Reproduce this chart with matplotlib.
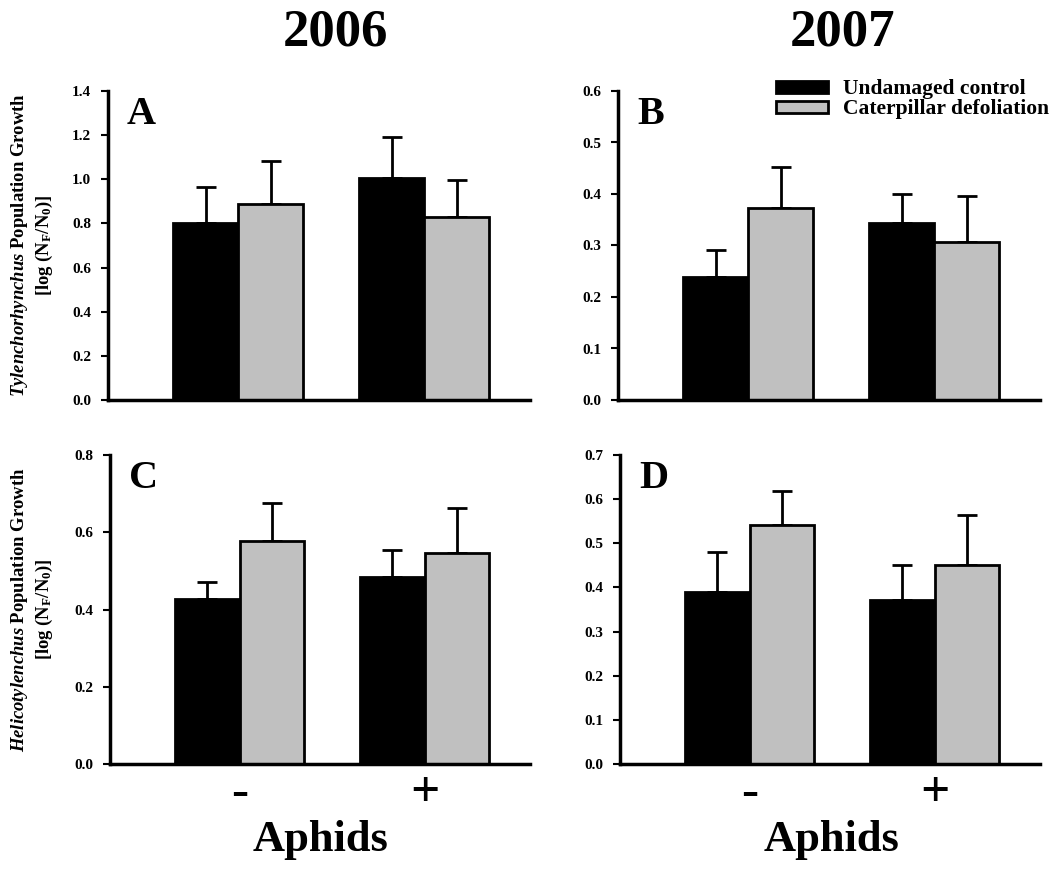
import numpy as np
import matplotlib
matplotlib.use("Agg")
import matplotlib.pyplot as plt
from matplotlib.patches import Patch

plt.rcParams['font.family'] = ['Liberation Serif', 'DejaVu Serif']
plt.rcParams['font.weight'] = 'bold'
plt.rcParams['mathtext.fontset'] = 'custom'
plt.rcParams['mathtext.rm'] = 'Liberation Serif:bold'
plt.rcParams['mathtext.it'] = 'Liberation Serif:italic:bold'
plt.rcParams['mathtext.bf'] = 'Liberation Serif:bold'

aphids = ['-', '+']
series = ['Undamaged control', 'Caterpillar defoliation']

# panel A: Tylenchorhynchus 2006
a_ctrl = [0.80, 1.005]
a_ctrl_se = [0.164, 0.185]
a_def = [0.89, 0.83]
a_def_se = [0.193, 0.165]

# panel B: Tylenchorhynchus 2007
b_ctrl = [0.239, 0.343]
b_ctrl_se = [0.052, 0.057]
b_def = [0.372, 0.307]
b_def_se = [0.080, 0.090]

# panel C: Helicotylenchus 2006
c_ctrl = [0.426, 0.483]
c_ctrl_se = [0.044, 0.070]
c_def = [0.578, 0.546]
c_def_se = [0.097, 0.118]

# panel D: Helicotylenchus 2007
d_ctrl = [0.390, 0.372]
d_ctrl_se = [0.091, 0.078]
d_def = [0.542, 0.451]
d_def_se = [0.076, 0.112]

fig = plt.figure(figsize=(10.64, 8.71), dpi=100)
W, H = 1064, 871


def px_axes(l, r, t, b):
    return fig.add_axes([l / W, 1 - b / H, (r - l) / W, (b - t) / H])


axA = px_axes(108, 530, 91, 400)
axB = px_axes(618, 1040, 91, 400)
axC = px_axes(110, 530, 455, 764)
axD = px_axes(620, 1040, 455, 764)

panels = [
    (axA, 'A', a_ctrl, a_ctrl_se, a_def, a_def_se, 1.4, 0.2),
    (axB, 'B', b_ctrl, b_ctrl_se, b_def, b_def_se, 0.6, 0.1),
    (axC, 'C', c_ctrl, c_ctrl_se, c_def, c_def_se, 0.8, 0.2),
    (axD, 'D', d_ctrl, d_ctrl_se, d_def, d_def_se, 0.7, 0.1),
]

x = np.arange(len(aphids))
w = 0.35
for ax, letter, ctrl, ctrl_se, dfl, dfl_se, ymax, step in panels:
    for vals, se, col, off in [(ctrl, ctrl_se, 'black', -w / 2), (dfl, dfl_se, '#c0c0c0', w / 2)]:
        ax.bar(x + off, vals, w, color=col, edgecolor='black', linewidth=2, zorder=2)
        ax.errorbar(x + off, vals, yerr=[np.zeros(len(se)), se], fmt='none',
                    ecolor='black', elinewidth=2, capsize=7, capthick=2, zorder=1)
    ax.set_xlim(-0.70, 1.57)
    ax.set_ylim(0, ymax)
    ax.set_yticks(np.arange(0, ymax + step / 2, step))
    ax.yaxis.set_major_formatter(matplotlib.ticker.FormatStrFormatter('%.1f'))
    ax.tick_params(axis='y', direction='out', length=5, width=1.5, labelsize=11, pad=7)
    for s in ['top', 'right']:
        ax.spines[s].set_visible(False)
    for s in ['left', 'bottom']:
        ax.spines[s].set_linewidth(2.5)
    ax.text(0.045, 0.985, letter, transform=ax.transAxes, fontsize=29,
            fontweight='bold', va='top', ha='left')
    ax.set_xticks(x)
    ax.tick_params(axis='x', length=0)

for ax in (axA, axB):
    ax.set_xticklabels([])
for ax in (axC, axD):
    ax.set_xticklabels(aphids, fontsize=37, fontweight='bold')
    ax.tick_params(axis='x', pad=5)

ylab = '$\\mathit{%s}$ Population Growth\n[log (N$_\\mathrm{F}$/N$_\\mathrm{0}$)]'
axA.set_ylabel(ylab % 'Tylenchorhynchus', fontsize=13.4, fontweight='bold', linespacing=1.3)
axC.set_ylabel(ylab % 'Helicotylenchus', fontsize=13.4, fontweight='bold', linespacing=1.3)
axA.yaxis.set_label_coords(-0.125, 0.5)
axC.yaxis.set_label_coords(-0.13, 0.5)

handles = [Patch(facecolor='black', edgecolor='black', linewidth=2),
           Patch(facecolor='#c0c0c0', edgecolor='black', linewidth=2)]
axB.legend(handles, series, loc='upper right', bbox_to_anchor=(1.067, 1.10), frameon=False,
           prop={'family': 'Liberation Serif', 'weight': 'bold', 'size': 15.5},
           handlelength=2.4, handleheight=0.45, handletextpad=0.7, labelspacing=0.0)

fig.text(335 / W, 1 - 32 / H, '2006', fontsize=38, fontweight='bold', ha='center', va='center')
fig.text(843 / W, 1 - 32 / H, '2007', fontsize=38, fontweight='bold', ha='center', va='center')
fig.text(321 / W, 1 - 840 / H, 'Aphids', fontsize=32, fontweight='bold', ha='center', va='center')
fig.text(832 / W, 1 - 840 / H, 'Aphids', fontsize=32, fontweight='bold', ha='center', va='center')

fig.savefig('out.png', dpi=100)
